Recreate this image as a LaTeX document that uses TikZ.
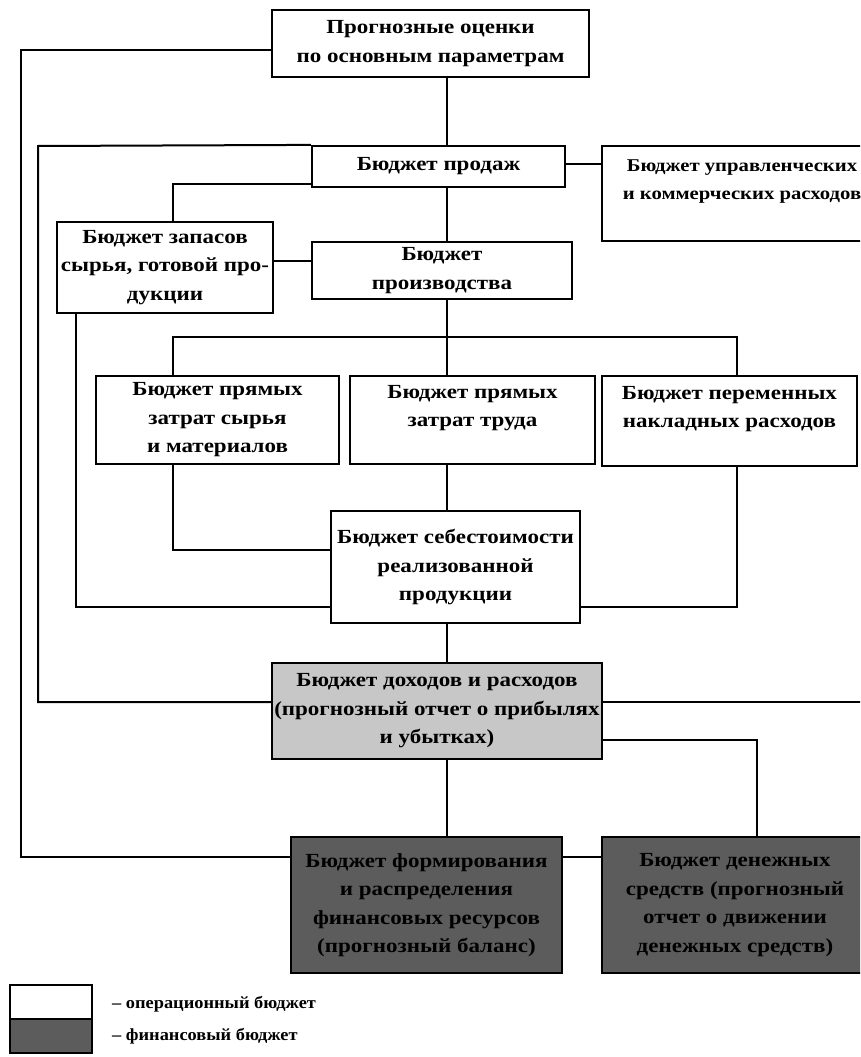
\documentclass[tikz,border=0pt]{standalone}
\usepackage{fontspec}
\setmainfont{Liberation Serif}[FakeStretch=1.15]
\newfontfamily\legfont{Liberation Serif}[FakeStretch=1.08]
\begin{document}
\begin{tikzpicture}[x=1pt,y=-1pt,
  box/.style={draw,line width=2.2pt,inner sep=0pt,align=center,
    font=\bfseries\fontsize{20}{28.5}\selectfont},
  opbox/.style={box,fill=white},
  incbox/.style={box,fill=black!22},
  finbox/.style={box,fill=black!64},
  conn/.style={line width=2pt},
  legtext/.style={anchor=west,inner sep=0pt,font=\legfont\bfseries\fontsize{17}{20}\selectfont}]
\useasboundingbox (0,0) rectangle (860,1057);
\clip (0,0) rectangle (860,1057);
\fill[white] (0,0) rectangle (860,1057);

% nodes
\node[opbox,minimum width=317pt,minimum height=67pt] (top) at (430.5,43.5)
  {Прогнозные оценки\\по основным параметрам};
\node[opbox,minimum width=253pt,minimum height=41pt] (sales) at (438.5,166.5)
  {Бюджет продаж};
\node[opbox,minimum width=280pt,minimum height=95pt,
  font=\bfseries\fontsize{18}{28}\selectfont] (mgmt) at (742,193.5)
  {Бюджет управленческих\\и коммерческих расходов\\\mbox{}};
\node[opbox,minimum width=216pt,minimum height=91pt] (stocks) at (165,267.5)
  {Бюджет запасов\\сырья, готовой про-\\дукции};
\node[opbox,minimum width=260pt,minimum height=57pt] (prod) at (442,270.5)
  {Бюджет\\производства};
\node[opbox,minimum width=243pt,minimum height=88pt] (dm) at (217.5,420)
  {Бюджет прямых\\затрат сырья\\и материалов};
\node[opbox,minimum width=245pt,minimum height=88pt] (dl) at (472.5,420)
  {Бюджет прямых\\затрат труда\\\mbox{}};
\node[opbox,minimum width=255pt,minimum height=90pt] (oh) at (729.5,421)
  {Бюджет переменных\\накладных расходов\\\mbox{}};
\node[opbox,minimum width=249pt,minimum height=112pt] (cogs) at (455.5,567)
  {Бюджет себестоимости\\реализованной\\продукции};
\node[incbox,minimum width=330pt,minimum height=96pt] (income) at (437,711)
  {Бюджет доходов и расходов\\(прогнозный отчет о прибылях\\и убытках)};
\node[finbox,minimum width=271pt,minimum height=136pt] (fin) at (426.5,905)
  {Бюджет формирования\\и распределения\\финансовых ресурсов\\(прогнозный баланс)};
\node[finbox,minimum width=266pt,minimum height=136pt] (cash) at (735,905)
  {Бюджет денежных\\средств (прогнозный\\отчет о движении\\денежных средств)};

% helper coordinates
\coordinate (sp) at (447,0);
\coordinate (o1) at (21,50);
\coordinate (o2) at (21,857);
\coordinate (i1) at (38,146);
\coordinate (i2) at (38,702);
\coordinate (m1) at (580,164);
\coordinate (s1) at (173,184);
\coordinate (p1) at (290,261);
\coordinate (b1) at (173,337);
\coordinate (b2) at (737,337);
\coordinate (c1) at (76,607);
\coordinate (c2) at (173,550);
\coordinate (c3) at (737,607);
\coordinate (e1) at (864,702);
\coordinate (c4) at (757,740);

% connectors
\draw[conn] (top.south -| sp) -- (sales.north -| sp);
\draw[conn] (top.west |- o1) -- (o1) -- (o2) -- (fin.west |- o2);
\draw[conn] (sales.north west) -- (i1) -- (i2) -- (income.west |- i2);
\draw[conn] (sales.east |- m1) -- (mgmt.west |- m1);
\draw[conn] (sales.west |- s1) -- (s1) -- (stocks.north -| s1);
\draw[conn] (sales.south -| sp) -- (prod.north -| sp);
\draw[conn] (stocks.east |- p1) -- (prod.west |- p1);
\draw[conn] (prod.south -| sp) -- (dl.north -| sp);
\draw[conn] (dm.north -| b1) -- (b1) -- (b2) -- (oh.north -| b2);
\draw[conn] (stocks.south -| c1) -- (c1) -- (cogs.west |- c1);
\draw[conn] (dm.south -| c2) -- (c2) -- (cogs.west |- c2);
\draw[conn] (dl.south -| sp) -- (cogs.north -| sp);
\draw[conn] (oh.south -| c3) -- (c3) -- (cogs.east |- c3);
\draw[conn] (cogs.south -| sp) -- (income.north -| sp);
\draw[conn] (income.east |- e1) -- (e1);
\draw[conn] (income.east |- c4) -- (c4) -- (cash.north -| c4);
\draw[conn] (income.south -| sp) -- (fin.north -| sp);
\draw[conn] (fin.east |- o2) -- (cash.west |- o2);

% legend
\node[draw,line width=2.2pt,fill=white,minimum width=82pt,minimum height=34pt,inner sep=0pt] (legop) at (51,1002) {};
\node[draw,line width=2.2pt,fill=black!64,minimum width=82pt,minimum height=34pt,inner sep=0pt] (legfin) at (51,1036) {};
\node[legtext] (legt1) at (112,1004) {– операционный бюджет};
\node[legtext] (legt2) at (112,1036) {– финансовый бюджет};
\end{tikzpicture}
\end{document}
